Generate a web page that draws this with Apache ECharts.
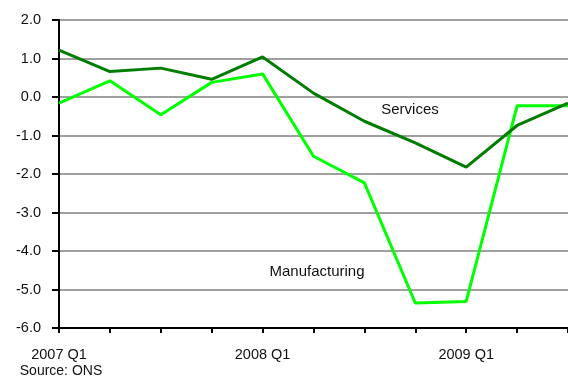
<!DOCTYPE html>
<html>
<head>
<meta charset="utf-8">
<script src="https://cdn.jsdelivr.net/npm/echarts@6/dist/echarts.min.js"></script>
<style>
  html, body { margin: 0; padding: 0; background: #fff; }
  #chart { width: 568px; height: 378px; }
</style>
</head>
<body>
<div id="chart"></div>
<script>
// Quarterly output growth, per cent
const quarters = ['2007 Q1', '2007 Q2', '2007 Q3', '2007 Q4',
                  '2008 Q1', '2008 Q2', '2008 Q3', '2008 Q4',
                  '2009 Q1', '2009 Q2', '2009 Q3'];
const services = [1.22, 0.66, 0.75, 0.46, 1.04, 0.10, -0.63, -1.19, -1.82, -0.74, -0.16];
const manufacturing = [-0.16, 0.42, -0.46, 0.38, 0.60, -1.54, -2.23, -5.35, -5.31, -0.23, -0.23];
const yTicks = { min: -6, max: 2, step: 1 };

const font = 'Liberation Sans, Arial, sans-serif';
const chart = echarts.init(document.getElementById('chart'), null, { renderer: 'canvas' });

chart.setOption({
  animation: false,
  backgroundColor: '#ffffff',
  grid: { left: 59, top: 20, width: 510, height: 308, containLabel: false },
  xAxis: {
    type: 'category',
    data: quarters,
    boundaryGap: false,
    axisLine: { onZero: false, lineStyle: { color: '#000', width: 2 } },
    axisTick: { show: true, interval: 0, length: 5, lineStyle: { color: '#000', width: 2 } },
    axisLabel: { interval: 3, margin: 19, color: '#111', fontFamily: font, fontSize: 14.5 },
    splitLine: { show: false }
  },
  yAxis: {
    type: 'value',
    min: yTicks.min,
    max: yTicks.max,
    interval: yTicks.step,
    axisLine: { show: true, lineStyle: { color: '#000', width: 2 } },
    axisTick: { show: true, length: 7, lineStyle: { color: '#000', width: 2 } },
    axisLabel: { margin: 18, color: '#111', fontFamily: font, fontSize: 14.5,
                 formatter: v => v.toFixed(1) },
    splitLine: { show: true, lineStyle: { color: '#a0a0a0', width: 2 } }
  },
  series: [
    {
      name: 'Manufacturing',
      type: 'line',
      data: manufacturing,
      symbol: 'none',
      lineStyle: { color: '#00ff00', width: 3 },
      z: 2
    },
    {
      name: 'Services',
      type: 'line',
      data: services,
      symbol: 'none',
      lineStyle: { color: '#007d00', width: 3 },
      z: 3
    }
  ],
  graphic: [
    { type: 'text', x: 410, y: 110,
      style: { text: 'Services', fill: '#111', font: '15px ' + font,
               align: 'center', verticalAlign: 'middle' } },
    { type: 'text', x: 317, y: 272,
      style: { text: 'Manufacturing', fill: '#111', font: '15px ' + font,
               align: 'center', verticalAlign: 'middle' } },
    { type: 'text', x: 61, y: 371,
      style: { text: 'Source: ONS', fill: '#111', font: '14px ' + font,
               align: 'center', verticalAlign: 'middle' } }
  ]
});
</script>
</body>
</html>
